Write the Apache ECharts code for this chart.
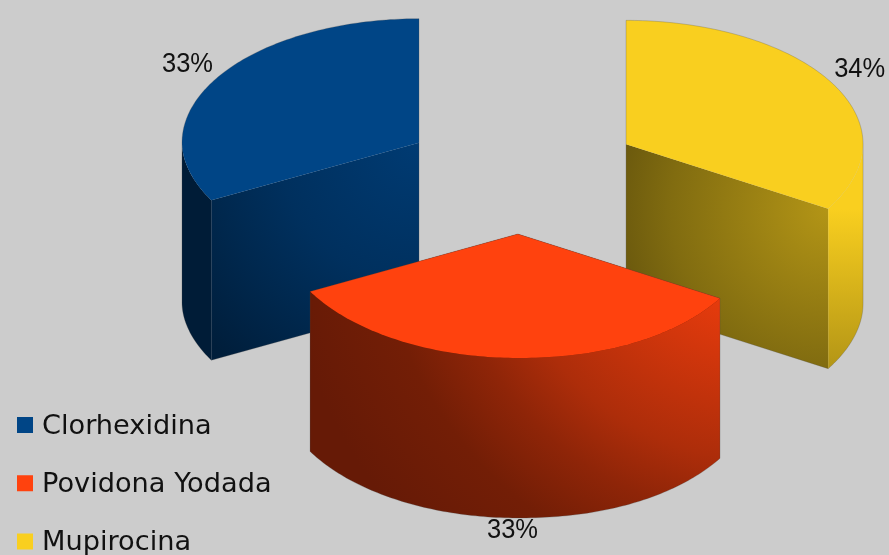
<!DOCTYPE html>
<html>
<head>
<meta charset="utf-8">
<title>Clorhexidina, Povidona Yodada, Mupirocina</title>
<style>
  html, body { margin: 0; padding: 0; background: #cccccc; overflow: hidden; }
  #chart { width: 889px; height: 555px; }
</style>
<script src="https://cdn.jsdelivr.net/npm/echarts@6/dist/echarts.min.js"></script>
</head>
<body>
<div id="chart"></div>
<script>
// Chart data
const categories = ['Clorhexidina', 'Povidona Yodada', 'Mupirocina'];
const percentages = [33, 33, 34];
const colors = ['#004586', '#ff420e', '#f9cf1f'];

// Projection of the exploded pie; the near half of the ellipse is eased slightly flatter, and wider on the right
const pie = { cx: 521.6, cy: 173.5, rx: 237, ry: 124, depth: 160, explodeX: 119.2, explodeY: 60.5, startAngle: 90, nearEaseY: 1.052, nearEaseX: 0.94 };
const labelNudge = [[-2, 0], [3, 0], [0, 0]];
const rad = d => d * Math.PI / 180;

function shade(hex, f) {
  const n = parseInt(hex.slice(1), 16);
  const c = [n >> 16, (n >> 8) & 255, n & 255].map(v => Math.round(v * f));
  return `rgb(${c.join(',')})`;
}
const radial = (base, p, r, stops) => ({
  type: 'radial', x: p[0], y: p[1], r, global: true,
  colorStops: stops.map(([offset, f]) => ({ offset, color: shade(base, f) }))
});
const vertical = (base, y0, y1, stops) => ({
  type: 'linear', x: 0, y: y0, x2: 0, y2: y1, global: true,
  colorStops: stops.map(([offset, f]) => ({ offset, color: shade(base, f) }))
});

// Lit surfaces of each wedge: the inner cut wall and the outer rim
const surfaces = [
  {
    wall: (c, g) => radial(c, g.apex, 360, [[0, .86], [.39, .7], [.58, .58], [.8, .44], [1, .42]]),
    rim: (c) => shade(c, .41)
  },
  {
    wall: (c) => shade(c, .4),
    rim: (c, g) => radial(c, [g.end[0] + 40, g.end[1] - 98], 480, [[0, 1], [.22, .9], [.54, .68], [.66, .56], [.8, .45], [1, .4]])
  },
  {
    wall: (c, g) => radial(c, g.start, 225, [[0, .72], [.7, .52], [1, .41]]),
    rim: (c, g) => vertical(c, g.start[1], g.start[1] + pie.depth, [[0, 1], [1, .72]])
  }
];

// Angular span of each wedge, counter-clockwise from the top of the pie
const total = percentages.reduce((a, b) => a + b, 0);
let running = pie.startAngle;
const spans = percentages.map(v => {
  const a0 = running;
  running += v / total * 360;
  return [a0, running];
});

function hull(points) {
  const pts = points.slice().sort((a, b) => a[0] - b[0] || a[1] - b[1]);
  const cross = (o, a, b) => (a[0] - o[0]) * (b[1] - o[1]) - (a[1] - o[1]) * (b[0] - o[0]);
  const half = list => {
    const out = [];
    list.forEach(p => {
      while (out.length > 1 && cross(out[out.length - 2], out[out.length - 1], p) <= 0) out.pop();
      out.push(p);
    });
    out.pop();
    return out;
  };
  return half(pts).concat(half(pts.reverse()));
}

function renderWedge(index) {
  return function (params, api) {
    const value = api.value(0);
    const [a0, a1] = spans[index];
    const color = colors[index];
    const mid = rad((a0 + a1) / 2);
    const apex = [pie.cx + pie.explodeX * Math.cos(mid), pie.cy - pie.explodeY * Math.sin(mid)];
    const at = deg => {
      const s = Math.sin(rad(deg)), c = Math.cos(rad(deg));
      if (s >= 0) return [apex[0] + pie.rx * c, apex[1] - pie.ry * s];
      return [
        apex[0] + pie.rx * (c > 0 ? Math.pow(c, pie.nearEaseX) : c),
        apex[1] + pie.ry * Math.pow(-s, pie.nearEaseY)
      ];
    };
    const down = p => [p[0], p[1] + pie.depth];
    const arc = (from, to) => {
      const out = [];
      const steps = Math.max(2, Math.ceil(to - from));
      for (let i = 0; i <= steps; i++) out.push(at(from + (to - from) * i / steps));
      return out;
    };

    const geom = { apex, start: at(a0), end: at(a1) };
    const topArc = arc(a0, a1);
    const topFace = [apex].concat(topArc);
    const quad = p => [apex, p, down(p), down(apex)];

    const children = [];
    const wallFill = surfaces[index].wall(color, geom);
    [geom.start, geom.end].forEach(p => children.push({
      type: 'polygon', shape: { points: quad(p) }, style: { fill: wallFill }
    }));

    // Outer rim: only the part of the arc that faces the viewer
    const front0 = Math.max(a0, 180), front1 = Math.min(a1, 360);
    if (front1 > front0) {
      const edge = arc(front0, front1);
      children.push({
        type: 'polygon',
        shape: { points: edge.concat(edge.map(down).reverse()) },
        style: { fill: surfaces[index].rim(color, geom) }
      });
    }

    children.push({ type: 'polygon', shape: { points: topFace }, style: { fill: color } });

    // Soft outline round the whole solid
    children.push({
      type: 'polygon',
      shape: { points: hull(topFace.concat(topFace.map(down))) },
      style: { fill: 'none', stroke: 'rgba(70,70,70,0.25)', lineWidth: 1 }
    });

    // Percentage label just outside the wedge
    const sinMid = Math.sin(mid), cosMid = Math.cos(mid);
    const labelY = sinMid > 0
      ? apex[1] - 1.25 * pie.ry * sinMid
      : apex[1] - 1.1 * pie.ry * sinMid + pie.depth;
    children.push({
      type: 'text',
      x: apex[0] + 1.125 * pie.rx * cosMid + labelNudge[index][0],
      y: labelY + labelNudge[index][1],
      scaleX: 0.91,
      style: {
        text: value + '%',
        align: 'center',
        verticalAlign: 'middle',
        fill: '#111111',
        font: '28px "Liberation Sans", Arial, sans-serif'
      }
    });

    return { type: 'group', children };
  };
}

const chart = echarts.init(document.getElementById('chart'), null, { renderer: 'canvas' });
chart.setOption({
  animation: false,
  backgroundColor: '#cccccc',
  legend: {
    data: categories,
    orient: 'vertical',
    left: 17,
    top: 412,
    height: 300,
    itemWidth: 16,
    itemHeight: 20,
    itemGap: 28.2,
    padding: 0,
    // Square swatch sitting in the upper part of a taller icon box, so it rides above the text's centre line
    icon: 'path://M0,0H16V16H0Z M0,20H16V20H0Z',
    selectedMode: false,
    textStyle: {
      fontFamily: '"DejaVu Sans", sans-serif',
      fontSize: 27.2,
      lineHeight: 30,
      color: '#111111',
      padding: [0, 0, 0, 4]
    }
  },
  series: categories.map((name, i) => ({
    type: 'custom',
    name,
    coordinateSystem: 'none',
    z: i === 1 ? 3 : 2,
    silent: true,
    itemStyle: { color: colors[i] },
    data: [[percentages[i]]],
    renderItem: renderWedge(i)
  }))
});
</script>
</body>
</html>
